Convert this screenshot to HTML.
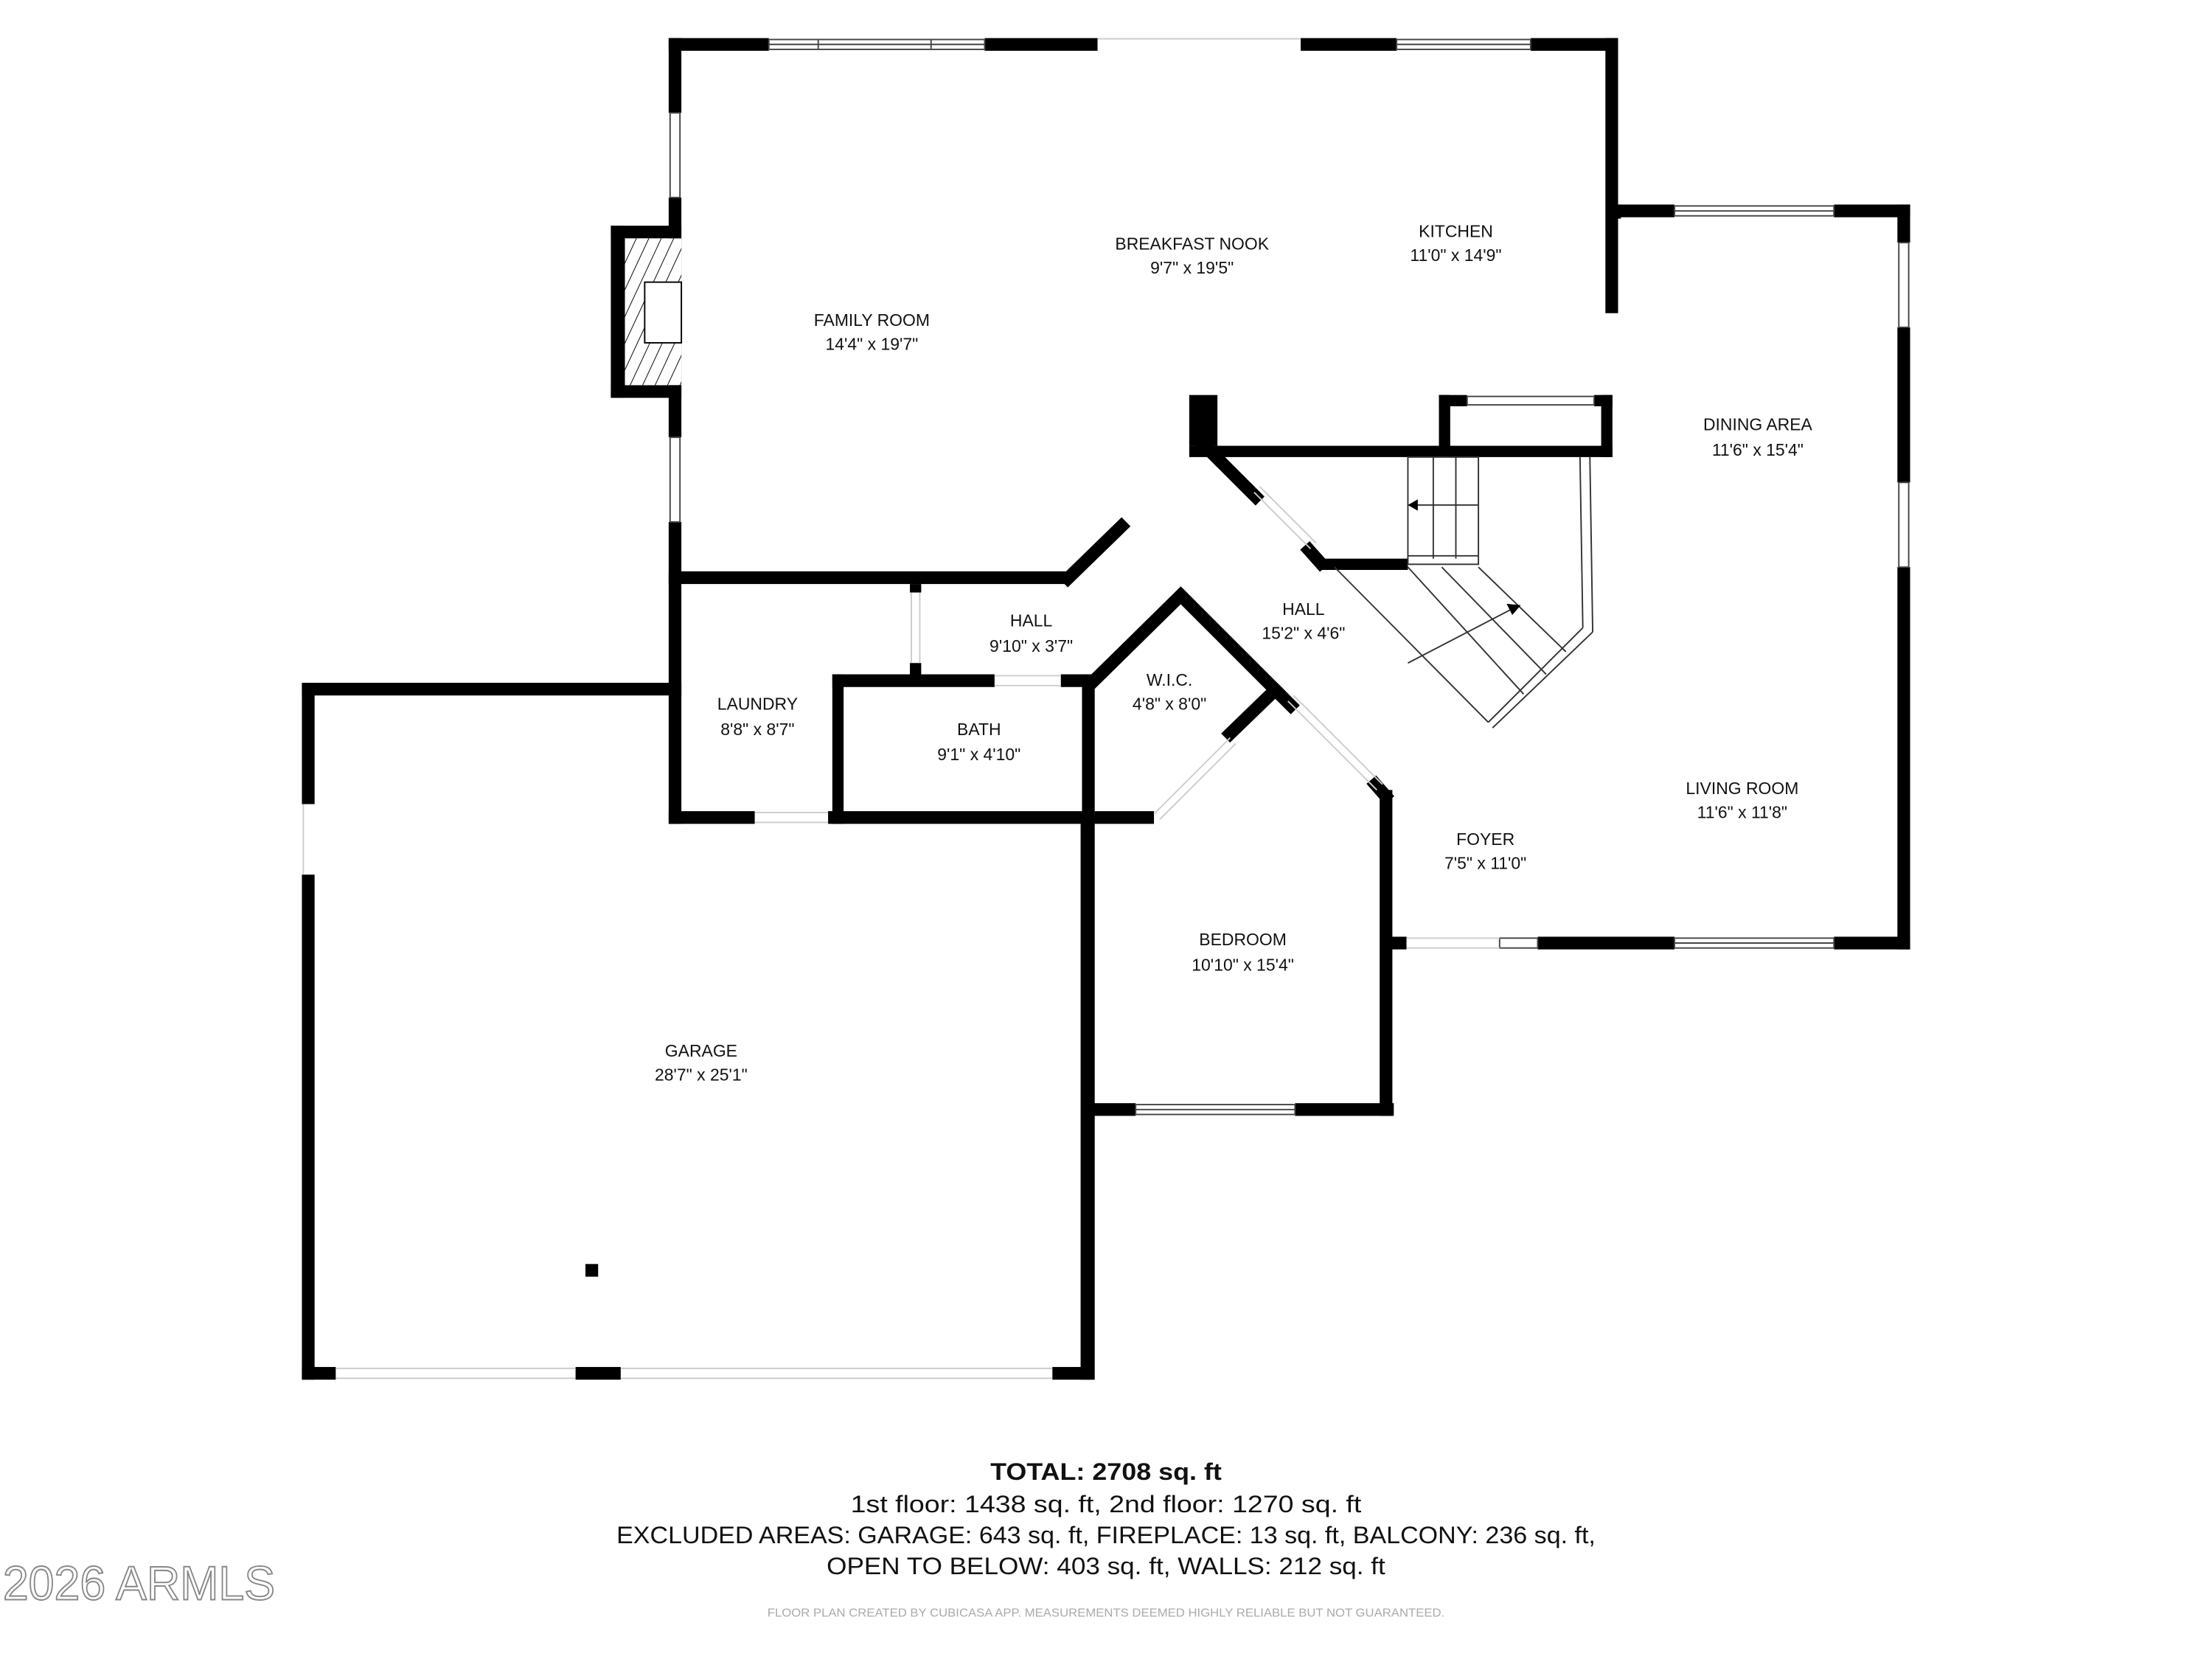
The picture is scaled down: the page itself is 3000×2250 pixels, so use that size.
<!DOCTYPE html>
<html><head><meta charset="utf-8"><style>
html,body{margin:0;padding:0;background:#fff;}
svg{display:block;}
text{font-family:"Liberation Sans",sans-serif;fill:#111;}
</style></head><body>
<svg width="3000" height="2250" viewBox="0 0 1568 1176" preserveAspectRatio="none" xmlns="http://www.w3.org/2000/svg">
<defs>
<pattern id="h" width="8" height="8" patternUnits="userSpaceOnUse" patternTransform="rotate(25)">
<rect width="8" height="8" fill="#fff"/><line x1="0" y1="0" x2="0" y2="8" stroke="#000" stroke-width="1"/>
</pattern>
</defs>
<g fill="#000">
<rect x="474" y="27" width="71" height="9"/>
<rect x="698" y="27" width="80" height="9"/>
<rect x="922" y="27" width="68" height="9"/>
<rect x="1085" y="27" width="62" height="9"/>
<rect x="1138" y="27" width="9" height="195"/>
<rect x="1143" y="145" width="44" height="9"/>
<rect x="1300" y="145" width="54" height="9"/>
<rect x="1143" y="145" width="6" height="10"/>
<rect x="1345" y="145" width="9" height="27"/>
<rect x="1345" y="232" width="9" height="110"/>
<rect x="1345" y="402" width="9" height="271"/>
<rect x="1090" y="664" width="97" height="9"/>
<rect x="1300" y="664" width="54" height="9"/>
<rect x="980" y="664" width="17" height="9"/>
<rect x="978" y="560" width="9" height="231"/>
<rect x="775" y="782" width="30" height="9"/>
<rect x="918" y="782" width="70" height="9"/>
<rect x="766" y="578" width="10" height="400"/>
<rect x="214" y="484" width="9" height="86"/>
<rect x="214" y="620" width="9" height="358"/>
<rect x="214" y="484" width="269" height="9"/>
<rect x="214" y="969" width="24" height="9"/>
<rect x="408" y="969" width="32" height="9"/>
<rect x="746" y="969" width="29" height="9"/>
<rect x="415" y="896" width="9" height="9"/>
<rect x="474" y="27" width="9" height="53"/>
<rect x="474" y="140" width="9" height="170"/>
<rect x="474" y="370" width="9" height="214"/>
<rect x="433" y="160" width="50" height="9"/>
<rect x="433" y="273" width="50" height="9"/>
<rect x="433" y="160" width="10" height="122"/>
<rect x="474" y="405" width="283" height="9"/>
<rect x="474" y="575" width="61" height="9"/>
<rect x="587" y="575" width="189" height="9"/>
<rect x="590" y="478" width="115" height="9"/>
<rect x="752" y="478" width="24" height="9"/>
<rect x="590" y="478" width="8" height="106"/>
<rect x="767" y="478" width="9" height="106"/>
<rect x="645" y="414" width="8" height="6"/>
<rect x="645" y="470" width="8" height="12"/>
<rect x="776" y="575" width="42" height="9"/>
<rect x="843" y="280" width="20" height="36"/>
<rect x="843" y="316" width="300" height="8"/>
<rect x="1020" y="280" width="8" height="44"/>
<rect x="1135" y="280" width="8" height="44"/>
<rect x="1020" y="280" width="20" height="8"/>
<rect x="1130" y="280" width="13" height="8"/>
<rect x="935" y="396" width="63" height="8"/>
</g>
<g stroke="#000" stroke-width="9" fill="none" stroke-linecap="square">
<polyline points="757,410 795,373"/>
<polyline points="776,482 837,422 905,490"/>
<polyline points="872,520 903,490"/>
<polyline points="850,312 890,352"/>
<polyline points="928,390 936,399"/>
<polyline points="905,490 915,500"/>
<polyline points="975,556 982,564"/>
</g>
<rect x="443" y="169" width="40" height="104" fill="url(#h)"/>
<rect x="457" y="200" width="26" height="43" fill="#fff" stroke="#000" stroke-width="1"/>
<g fill="#fff" stroke="#444" stroke-width="1">
<rect x="545" y="28" width="153" height="7"/><line x1="545" y1="31.5" x2="698" y2="31.5"/>
<line x1="580" y1="28" x2="580" y2="35"/><line x1="660" y1="28" x2="660" y2="35"/>
<rect x="990" y="28" width="95" height="7"/><line x1="990" y1="31.5" x2="1085" y2="31.5"/>
<rect x="1187" y="146" width="113" height="7"/><line x1="1187" y1="149.5" x2="1300" y2="149.5"/>
<rect x="1346" y="172" width="7" height="60"/>
<rect x="1346" y="342" width="7" height="60"/>
<rect x="1187" y="665" width="113" height="7"/><line x1="1187" y1="668.5" x2="1300" y2="668.5"/>
<rect x="1063" y="665" width="27" height="7"/>
<rect x="805" y="783" width="113" height="7"/><line x1="805" y1="786.5" x2="918" y2="786.5"/>
<rect x="475" y="80" width="7" height="60"/>
<rect x="475" y="310" width="7" height="60"/>
<rect x="1040" y="281" width="90" height="6"/>
</g>
<g stroke="#ccc" stroke-width="1" fill="none">
<line x1="778" y1="27.5" x2="922" y2="27.5"/>
<line x1="215" y1="570" x2="215" y2="620"/>
<line x1="238" y1="970" x2="408" y2="970"/><line x1="238" y1="977" x2="408" y2="977"/>
<line x1="440" y1="970" x2="746" y2="970"/><line x1="440" y1="977" x2="746" y2="977"/>
<line x1="997" y1="665" x2="1063" y2="665"/><line x1="997" y1="672" x2="1063" y2="672"/>
<line x1="535" y1="576" x2="587" y2="576"/><line x1="535" y1="583" x2="587" y2="583"/>
<line x1="705" y1="479" x2="752" y2="479"/><line x1="705" y1="486" x2="752" y2="486"/>
<line x1="646" y1="420" x2="646" y2="470"/><line x1="652" y1="420" x2="652" y2="470"/>
<line x1="818" y1="577" x2="872" y2="523"/><line x1="822" y1="581" x2="876" y2="527"/>
<line x1="889" y1="349" x2="929" y2="389"/><line x1="893" y1="345" x2="933" y2="385"/>
<line x1="913" y1="497" x2="976" y2="560"/><line x1="917" y1="493" x2="980" y2="556"/>
</g>
<g stroke="#333" stroke-width="1" fill="none">
<rect x="998" y="324" width="50" height="76"/>
<line x1="1016" y1="324" x2="1016" y2="396"/><line x1="1032" y1="324" x2="1032" y2="396"/>
<line x1="998" y1="358" x2="1048" y2="358"/><line x1="998" y1="394" x2="1048" y2="394"/>
<line x1="1120" y1="324" x2="1122" y2="445"/><line x1="1127" y1="324" x2="1129" y2="448"/>
<line x1="1122" y1="445" x2="1055" y2="512"/><line x1="1129" y1="448" x2="1058" y2="516"/>
<line x1="946" y1="402" x2="1055" y2="512"/>
<line x1="998" y1="402" x2="1080" y2="492"/>
<line x1="1022" y1="402" x2="1096" y2="478"/>
<line x1="1048" y1="402" x2="1110" y2="462"/>
<line x1="998" y1="470" x2="1075" y2="430"/>
</g>
<polygon points="998,358 1005,354 1005,362" fill="#000"/>
<polygon points="1078,429 1068,428 1072,436" fill="#000"/>
<g font-size="12" text-anchor="middle">
<text x="618" y="231">FAMILY ROOM</text><text x="618" y="248">14'4" x 19'7"</text>
<text x="845" y="177">BREAKFAST NOOK</text><text x="845" y="194">9'7" x 19'5"</text>
<text x="1032" y="168">KITCHEN</text><text x="1032" y="185">11'0" x 14'9"</text>
<text x="1246" y="305">DINING AREA</text><text x="1246" y="323">11'6" x 15'4"</text>
<text x="731" y="444">HALL</text><text x="731" y="462">9'10" x 3'7"</text>
<text x="924" y="436">HALL</text><text x="924" y="453">15'2" x 4'6"</text>
<text x="537" y="503">LAUNDRY</text><text x="537" y="521">8'8" x 8'7"</text>
<text x="694" y="521">BATH</text><text x="694" y="539">9'1" x 4'10"</text>
<text x="829" y="486">W.I.C.</text><text x="829" y="503">4'8" x 8'0"</text>
<text x="1235" y="563">LIVING ROOM</text><text x="1235" y="580">11'6" x 11'8"</text>
<text x="1053" y="599">FOYER</text><text x="1053" y="616">7'5" x 11'0"</text>
<text x="881" y="670">BEDROOM</text><text x="881" y="688">10'10" x 15'4"</text>
<text x="497" y="749">GARAGE</text><text x="497" y="766">28'7" x 25'1"</text>
</g>
<g text-anchor="middle">
<text x="784" y="1049" font-size="17" font-weight="bold" textLength="164" lengthAdjust="spacingAndGlyphs">TOTAL: 2708 sq. ft</text>
<text x="784" y="1072" font-size="17" textLength="362" lengthAdjust="spacingAndGlyphs">1st floor: 1438 sq. ft, 2nd floor: 1270 sq. ft</text>
<text x="784" y="1094" font-size="17" textLength="694" lengthAdjust="spacingAndGlyphs">EXCLUDED AREAS: GARAGE: 643 sq. ft, FIREPLACE: 13 sq. ft, BALCONY: 236 sq. ft,</text>
<text x="784" y="1116" font-size="17" textLength="396" lengthAdjust="spacingAndGlyphs">OPEN TO BELOW: 403 sq. ft, WALLS: 212 sq. ft</text>
<text x="784" y="1146" font-size="8" style="fill:#aaa" textLength="480" lengthAdjust="spacingAndGlyphs">FLOOR PLAN CREATED BY CUBICASA APP. MEASUREMENTS DEEMED HIGHLY RELIABLE BUT NOT GUARANTEED.</text>
</g>
<text x="2" y="1134" font-size="34" textLength="193" lengthAdjust="spacingAndGlyphs" style="fill:none;stroke:#888;stroke-width:1">2026 ARMLS</text>
</svg>
</body></html>
